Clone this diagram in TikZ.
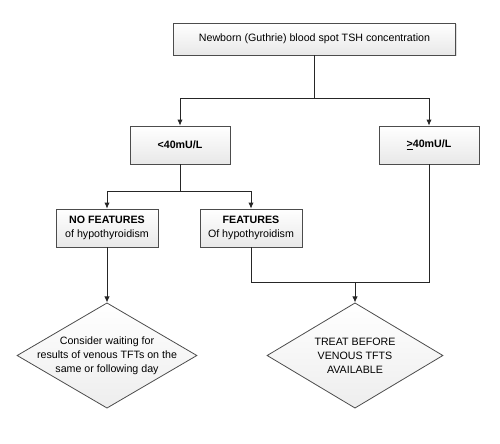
\documentclass[tikz,border=0pt]{standalone}
\usepackage{fontspec}
\setmainfont{Liberation Sans}
\usetikzlibrary{arrows.meta}
\usetikzlibrary{shapes.geometric}
\usetikzlibrary{shadows}

\begin{document}
\begin{tikzpicture}[x=0.75pt,y=-0.75pt,
  font=\fontsize{8}{10.5}\selectfont,
  box/.style={draw=black!70,line width=0.6pt,top color=white,bottom color=black!9,
    drop shadow={shadow xshift=0.8pt,shadow yshift=-0.8pt,opacity=0.25},
    inner sep=0pt,align=center},
  decision/.style={diamond,draw=black!70,line width=0.6pt,top color=white,bottom color=black!7,
    inner sep=0pt},
  line/.style={draw=black!85,line width=0.6pt},
  arrow/.style={line,-{Latex[length=4.5pt,width=4pt]}}
]
\useasboundingbox (0,0) rectangle (500,443);

%%% BOXES %%%
\node[box,minimum width=212pt,minimum height=24pt] (top) at (314.5,39)
  {Newborn (Guthrie) blood spot TSH concentration};
\node[box,minimum width=75pt,minimum height=28.5pt] (low) at (180,145) {\textbf{<40mU/L}};
\node[box,minimum width=75pt,minimum height=28.5pt] (high) at (429,145) {\textbf{\underline{>}40mU/L}};
\node[box,minimum width=76.5pt,minimum height=28.5pt] (nofeat) at (107,228)
  {\textbf{NO FEATURES}\\of hypothyroidism};
\node[box,minimum width=76.5pt,minimum height=28.5pt] (feat) at (251,228)
  {\textbf{FEATURES}\\Of hypothyroidism};

%%% DIAMONDS %%%
\node[decision,minimum width=135pt,minimum height=79pt] (wait) at (107,355.5) {};
\node[align=center] (waittext) at (wait) {Consider waiting for\\results of venous TFTs on the\\same or following day};
\node[decision,minimum width=132pt,minimum height=79pt] (treat) at (355,355.5) {};
\node[align=center] (treattext) at (treat) {TREAT BEFORE\\VENOUS TFTS\\AVAILABLE};

%%% CONNECTORS %%%
\coordinate (s1) at (314.5,98); % first split
\coordinate (s2) at (180,191); % second split
\coordinate (s3) at (355,282); % join
\draw[line] (top.south) -- (s1);
\draw[arrow] (s1) -| (low.north);
\draw[arrow] (s1) -| (high.north);
\draw[line] (low.south) -- (s2);
\draw[arrow] (s2) -| (nofeat.north);
\draw[arrow] (s2) -| (feat.north);
\draw[arrow] (nofeat.south) -- (wait.north);
\draw[line] (feat.south) |- (s3);
\draw[line] (high.south) |- (s3);
\draw[arrow] (s3) -- (treat.north);
\end{tikzpicture}
\end{document}
